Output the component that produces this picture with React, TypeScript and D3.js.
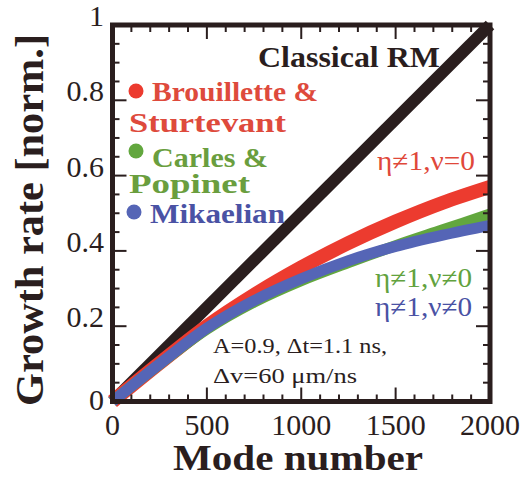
import React from 'react';
import * as d3 from 'd3';

const modeNumbers = [0, 250, 500, 750, 1000, 1250, 1500, 1750, 2000];
const brouilletteSturtevant = [0, 0.102, 0.2, 0.283, 0.356, 0.421, 0.478, 0.528, 0.57];
const carlesPopinet = [0, 0.099, 0.192, 0.264, 0.321, 0.369, 0.414, 0.456, 0.498];
const mikaelian = [0, 0.1, 0.195, 0.268, 0.326, 0.374, 0.412, 0.442, 0.468];
const classicalModes = [0, 2000];
const classicalRM = [0, 1];

const xTicks = [0, 500, 1000, 1500, 2000];
const xTickLabels = ['0', '500', '1000', '1500', '2000'];
const yTicks = [0, 0.2, 0.4, 0.6, 0.8, 1];
const yTickLabels = ['0', '0.2', '0.4', '0.6', '0.8', '1'];

const FONT = '"Liberation Serif", "Times New Roman", serif';
const DARK = '#2a1e1e';
const RED = '#ec3b2f';
const GREEN = '#62a73e';
const BLUE = '#5565b6';

export default function App() {
  const x = d3.scaleLinear().domain([0, 2000]).range([112.5, 490]);
  const y = d3.scaleLinear().domain([0, 1]).range([401.5, 25]);

  const line = (xs: number[], ys: number[], curve: any = d3.curveCatmullRom.alpha(0.5)) =>
    d3
      .line<number>()
      .x((_, i) => x(xs[i]))
      .y((d) => y(d))
      .curve(curve)(ys) || '';

  const xMinor = d3.range(0, 2001, 100);
  const yMinor = d3.range(0, 1.0001, 0.05);
  const isMajorX = (v: number) => v % 500 === 0;
  const isMajorY = (v: number) => Math.abs(v * 5 - Math.round(v * 5)) < 1e-6;
  const L = 14;
  const S = 7;

  return (
    <svg
      width={520}
      height={481}
      style={{ position: 'absolute', left: 0, top: 0, background: '#fff' }}
      fontFamily={FONT}
    >
      <rect x={0} y={0} width={520} height={481} fill="#fff" />

      {/* curves */}
      <path d={line(classicalModes, classicalRM, d3.curveLinear)} fill="none" stroke={DARK} strokeWidth={12} />
      <path d={line(modeNumbers, brouilletteSturtevant)} fill="none" stroke={RED} strokeWidth={14} />
      <path d={line(modeNumbers, carlesPopinet)} fill="none" stroke={GREEN} strokeWidth={11} />
      <path d={line(modeNumbers, mikaelian)} fill="none" stroke={BLUE} strokeWidth={11} />

      {/* ticks */}
      {xMinor.map((v) => {
        const len = isMajorX(v) ? L : S;
        return (
          <g key={'xt' + v} stroke={DARK} strokeWidth={2}>
            <line x1={x(v)} x2={x(v)} y1={y(0)} y2={y(0) - len} />
            <line x1={x(v)} x2={x(v)} y1={y(1)} y2={y(1) + len} />
          </g>
        );
      })}
      {yMinor.map((v) => {
        const len = isMajorY(v) ? L : S;
        return (
          <g key={'yt' + v} stroke={DARK} strokeWidth={2}>
            <line x1={x(0)} x2={x(0) + len} y1={y(v)} y2={y(v)} />
            <line x1={x(2000)} x2={x(2000) - len} y1={y(v)} y2={y(v)} />
          </g>
        );
      })}

      {/* frame */}
      <rect
        x={x(0)}
        y={y(1)}
        width={x(2000) - x(0)}
        height={y(0) - y(1)}
        fill="none"
        stroke={DARK}
        strokeWidth={5}
      />

      {/* tick labels */}
      {xTicks.map((v, i) => (
        <text key={'xl' + v} x={x(v)} y={435} textAnchor="middle" fontSize={30} fill={DARK}>
          {xTickLabels[i]}
        </text>
      ))}
      {yTicks.map((v, i) => (
        <text
          key={'yl' + v}
          x={104}
          y={y(v) + (v === 0 ? 8 : 1)}
          textAnchor="end"
          fontSize={30}
          fill={DARK}
        >
          {yTickLabels[i]}
        </text>
      ))}

      {/* axis titles */}
      <text x={298} y={470} textAnchor="middle" fontSize={36} fontWeight="bold" fill={DARK} textLength={250} lengthAdjust="spacingAndGlyphs">
        Mode number
      </text>
      <text
        transform="translate(43,220) rotate(-90)"
        textAnchor="middle"
        fontSize={40}
        fontWeight="bold"
        fill={DARK}
        textLength={372}
        lengthAdjust="spacingAndGlyphs"
      >
        Growth rate [norm.]
      </text>

      {/* Classical RM */}
      <text x={258} y={67} fontSize={30} fontWeight="bold" fill={DARK} textLength={182} lengthAdjust="spacingAndGlyphs">
        Classical RM
      </text>

      {/* legend */}
      <circle cx={136} cy={91} r={7.5} fill={RED} />
      <text x={152} y={101} fontSize={27} fontWeight="bold" fill="#de4a3c" textLength={166} lengthAdjust="spacingAndGlyphs">
        Brouillette &amp;
      </text>
      <text x={129} y={132} fontSize={27} fontWeight="bold" fill="#de4a3c" textLength={157} lengthAdjust="spacingAndGlyphs">
        Sturtevant
      </text>
      <circle cx={136} cy={151} r={7.5} fill={GREEN} />
      <text x={152} y={167} fontSize={27} fontWeight="bold" fill="#6a9e3e" textLength={116} lengthAdjust="spacingAndGlyphs">
        Carles &amp;
      </text>
      <text x={129} y={193} fontSize={27} fontWeight="bold" fill="#6a9e3e" textLength={121} lengthAdjust="spacingAndGlyphs">
        Popinet
      </text>
      <circle cx={134} cy={212} r={7.5} fill={BLUE} />
      <text x={150} y={223} fontSize={27} fontWeight="bold" fill="#4a52a4" textLength={135} lengthAdjust="spacingAndGlyphs">
        Mikaelian
      </text>

      {/* curve annotations */}
      <text x={377} y={170} fontSize={27} fill="#e0483a" textLength={98} lengthAdjust="spacingAndGlyphs">
        η≠1,ν=0
      </text>
      <text x={375} y={287} fontSize={27} fill="#62a23e" textLength={97} lengthAdjust="spacingAndGlyphs">
        η≠1,ν≠0
      </text>
      <text x={375} y={316} fontSize={27} fill="#4a52a4" textLength={97} lengthAdjust="spacingAndGlyphs">
        η≠1,ν≠0
      </text>

      <text x={213} y={353} fontSize={22} fill={DARK} textLength={174} lengthAdjust="spacingAndGlyphs">
        A=0.9, Δt=1.1 ns,
      </text>
      <text x={213} y={383} fontSize={22} fill={DARK} textLength={144} lengthAdjust="spacingAndGlyphs">
        Δv=60 μm/ns
      </text>
    </svg>
  );
}
